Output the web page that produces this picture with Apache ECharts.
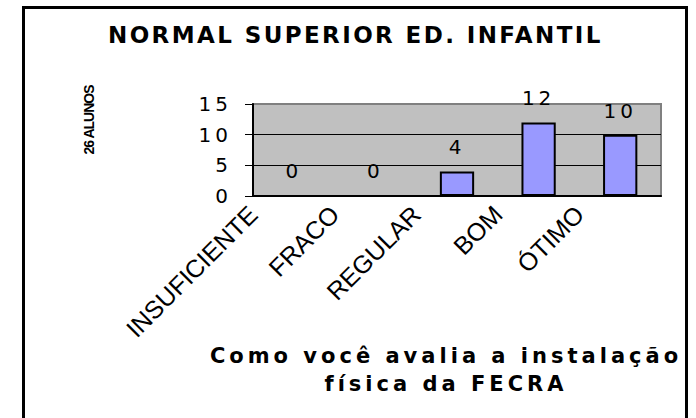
<!DOCTYPE html>
<html>
<head>
<meta charset="utf-8">
<script src="https://cdn.jsdelivr.net/npm/echarts@6/dist/echarts.min.js"></script>
<style>
html, body { margin: 0; padding: 0; background: #fff; }
#chart { width: 696px; height: 418px; }
/* o original tem texto largo e espaçado */
#chart text[style*="23px"] { letter-spacing: 2.4px; }
#chart text[style*="21px"] { letter-spacing: 4px; }
#chart text[style*="20px"] { letter-spacing: 4px; }
#chart text[style*="14px"] { letter-spacing: -1px; }
</style>
</head>
<body>
<div id="chart"></div>
<script>
// dados
var categorias = ['INSUFICIENTE', 'FRACO', 'REGULAR', 'BOM', 'ÓTIMO'];
var alunos = [0, 0, 4, 12, 10];
var ticksY = [0, 5, 10, 15];

var fonte = '"Liberation Sans", Arial, sans-serif';
var fonteLarga = '"DejaVu Sans", "Liberation Sans", sans-serif';

window.addEventListener('load', initChart);

function initChart() {
    var chart = echarts.init(document.getElementById('chart'), null, { renderer: 'svg' });

    var option = {
        animation: false,
        title: {
            text: 'NORMAL SUPERIOR ED. INFANTIL',
            left: 103,
            top: 18,
            textAlign: 'left',
            textStyle: {
                fontFamily: fonteLarga,
                fontWeight: 'bold',
                fontSize: 23,
                color: '#000'
            }
        },
        graphic: [{
            type: 'rect',
            silent: true,
            z: -1,
            shape: { x: 23.5, y: 7.5, width: 663, height: 440 },
            style: { fill: 'none', stroke: '#000', lineWidth: 3 }
        }],
        grid: {
            left: 253,
            right: 35,
            top: 104,
            bottom: 222,
            show: true,
            backgroundColor: '#c0c0c0',
            borderColor: '#808080',
            borderWidth: 2
        },
        xAxis: [{
            type: 'category',
            data: categorias,
            position: 'bottom',
            axisLine: { lineStyle: { color: '#000', width: 2 } },
            axisTick: { length: 5, lineStyle: { color: '#000' } },
            axisLabel: { show: false },
            name: 'Como você avalia a instalação\nfísica da FECRA',
            nameLocation: 'middle',
            nameGap: 146,
            nameTextStyle: {
                fontFamily: fonteLarga,
                fontWeight: 'bold',
                fontSize: 21,
                lineHeight: 28,
                color: '#000',
                padding: [0, 22, 0, 0]
            }
        }, {
            // rótulos alinhados às divisões, como no original
            type: 'category',
            data: categorias.concat(['']),
            position: 'bottom',
            boundaryGap: false,
            axisLine: { show: false },
            axisTick: { show: false },
            axisLabel: {
                interval: 0,
                rotate: 45,
                margin: 14,
                fontFamily: fonte,
                fontSize: 25,
                color: '#000'
            }
        }],
        yAxis: {
            type: 'value',
            min: ticksY[0],
            max: ticksY[ticksY.length - 1],
            interval: ticksY[1] - ticksY[0],
            axisLine: { show: true, lineStyle: { color: '#000', width: 2 } },
            axisTick: { show: true, length: 8, lineStyle: { color: '#000' } },
            axisLabel: {
                margin: 21,
                fontFamily: fonteLarga,
                fontSize: 20,
                color: '#000'
            },
            splitLine: { showMaxLine: false, lineStyle: { color: '#000', width: 1 } },
            name: '26 ALUNOS',
            nameLocation: 'middle',
            nameRotate: 90,
            nameGap: 157,
            nameTextStyle: {
                fontFamily: fonte,
                fontWeight: 'bold',
                fontSize: 14,
                color: '#000',
                padding: [0, 0, 0, 60]
            }
        },
        series: [{
            name: 'alunos',
            type: 'bar',
            xAxisIndex: 0,
            barWidth: '42%',
            data: alunos,
            itemStyle: {
                color: '#9999ff',
                borderColor: '#000',
                borderWidth: 2
            },
            label: {
                show: true,
                position: 'top',
                distance: 14,
                fontFamily: fonteLarga,
                fontSize: 20,
                color: '#000'
            }
        }]
    };

    chart.setOption(option);
}
</script>
</body>
</html>
